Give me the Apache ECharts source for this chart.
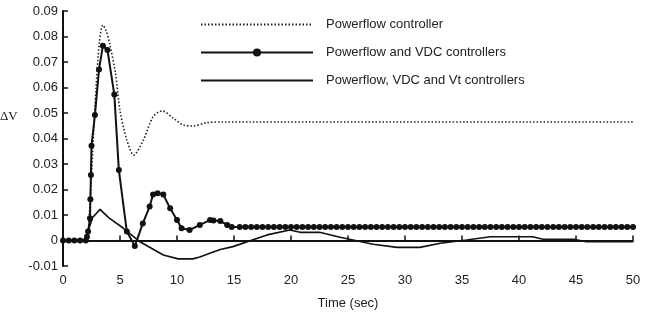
<!DOCTYPE html>
<html>
<head>
<meta charset="utf-8">
<script src="https://cdn.jsdelivr.net/npm/echarts@6/dist/echarts.min.js"></script>
<style>html,body{margin:0;padding:0;background:#fff;}#c{width:649px;height:329px;}</style>
</head>
<body>
<div id="c"></div>
<script>
var seriesNames = ['Powerflow controller', 'Powerflow and VDC controllers', 'Powerflow, VDC and Vt controllers'];
var xTickLabels = [0, 5, 10, 15, 20, 25, 30, 35, 40, 45, 50];
var yTickLabels = ['-0.01', '0', '0.01', '0.02', '0.03', '0.04', '0.05', '0.06', '0.07', '0.08', '0.09'];

// Powerflow controller (dotted)
var t1 = [0, 2.0, 2.3, 2.6, 2.9, 3.2, 3.5, 3.8, 4.1, 4.6, 5.0, 5.6, 6.2, 7.05, 7.9, 8.7, 9.7, 10.55, 11.4, 12.6, 14, 50];
var v1 = [0, 0, 0.01, 0.035, 0.06, 0.078, 0.0845, 0.082, 0.077, 0.0657, 0.051, 0.0394, 0.0335, 0.0394, 0.0485, 0.0508, 0.0479, 0.0453, 0.0449, 0.0462, 0.0465, 0.0465];

// Powerflow and VDC controllers (line with markers)
var t2 = [0, 0.5, 1, 1.5, 2, 2.1, 2.2, 2.37, 2.4, 2.45, 2.5, 2.8, 3.16, 3.5, 3.9, 4.5, 4.9, 5.6, 6.3, 7, 7.6, 7.9, 8.3, 8.8, 9.4, 10, 10.4, 11.1, 12, 12.9, 13.2, 13.8, 14.4, 14.8,
  15.5, 16, 16.5, 17, 17.5, 18, 18.5, 19, 19.5, 20, 20.5, 21, 21.5, 22, 22.5, 23, 23.5, 24, 24.5, 25, 25.5, 26, 26.5, 27, 27.5, 28, 28.5, 29, 29.5, 30,
  30.5, 31, 31.5, 32, 32.5, 33, 33.5, 34, 34.5, 35, 35.5, 36, 36.5, 37, 37.5, 38, 38.5, 39, 39.5, 40, 40.5, 41, 41.5, 42, 42.5, 43, 43.5, 44, 44.5, 45,
  45.5, 46, 46.5, 47, 47.5, 48, 48.5, 49, 49.5, 50];
var v2 = [0, 0, 0, 0, 0, 0.0015, 0.0035, 0.0087, 0.0162, 0.0257, 0.0372, 0.0492, 0.0671, 0.0764, 0.0747, 0.0573, 0.0276, 0.0035, -0.0022, 0.0067, 0.0133, 0.018, 0.0185, 0.018, 0.0126, 0.008, 0.0048, 0.0041, 0.0061, 0.008, 0.0078, 0.0076, 0.0061, 0.0053,
  0.0053, 0.0053, 0.0053, 0.0053, 0.0053, 0.0053, 0.0053, 0.0053, 0.0053, 0.0053, 0.0053, 0.0053, 0.0053, 0.0053, 0.0053, 0.0053, 0.0053, 0.0053, 0.0053, 0.0053, 0.0053, 0.0053, 0.0053, 0.0053, 0.0053, 0.0053, 0.0053, 0.0053, 0.0053, 0.0053,
  0.0053, 0.0053, 0.0053, 0.0053, 0.0053, 0.0053, 0.0053, 0.0053, 0.0053, 0.0053, 0.0053, 0.0053, 0.0053, 0.0053, 0.0053, 0.0053, 0.0053, 0.0053, 0.0053, 0.0053, 0.0053, 0.0053, 0.0053, 0.0053, 0.0053, 0.0053, 0.0053, 0.0053, 0.0053, 0.0053,
  0.0053, 0.0053, 0.0053, 0.0053, 0.0053, 0.0053, 0.0053, 0.0053, 0.0053, 0.0053];

// Powerflow, VDC and Vt controllers (solid)
var t3 = [0, 2.0, 2.3, 2.6, 3.25, 4.0, 5.3, 6.75, 8.8, 10.1, 11.4, 12.0, 13.0, 13.8, 14.9, 17.9, 19.9, 20.8, 22.5, 24.3, 27.2, 29.3, 31.3, 33.1, 35.4, 37.5, 41.2, 42.1, 44.8, 45.9, 50];
var v3 = [0, 0, 0.005, 0.009, 0.0122, 0.009, 0.0048, -0.0005, -0.0057, -0.0072, -0.0072, -0.0065, -0.0048, -0.0035, -0.0024, 0.0022, 0.0041, 0.0032, 0.0032, 0.0013, -0.0015, -0.0027, -0.0027, -0.0011, 0.0002, 0.0015, 0.0015, 0.0005, 0.0005, -0.0005, -0.0005];

function pairs(t, v) { return t.map(function (x, i) { return [x, v[i]]; }); }

var chart = echarts.init(document.getElementById('c'), null, { renderer: 'canvas' });
var font = 'Liberation Sans, Arial, sans-serif';
var hidden = { color: 'rgba(0,0,0,0)', borderWidth: 0, opacity: 0 };
chart.setOption({
  animation: false,
  backgroundColor: '#fff',
  grid: { left: 63, right: 16, top: 11, bottom: 63, containLabel: false },
  legend: {
    orient: 'vertical', left: 195, top: 13,
    itemWidth: 112, itemHeight: 10, itemGap: 15,
    textStyle: { fontFamily: font, fontSize: 13, color: '#222', padding: [0, 0, 0, 8] },
    data: [
      { name: seriesNames[0], itemStyle: hidden },
      { name: seriesNames[1] },
      { name: seriesNames[2], itemStyle: hidden }
    ]
  },
  xAxis: {
    type: 'value', min: 0, max: 50, interval: 5,
    name: 'Time (sec)', nameLocation: 'middle', nameGap: 31,
    nameTextStyle: { fontFamily: font, fontSize: 13, color: '#222' },
    axisLine: { lineStyle: { color: '#111', width: 2 } },
    axisTick: { inside: true, length: 5, lineStyle: { color: '#111', width: 1.5 } },
    axisLabel: { fontFamily: font, fontSize: 13, color: '#222', margin: 8,
      formatter: function (v) { return xTickLabels.indexOf(v) >= 0 ? String(v) : ''; } },
    splitLine: { show: false }
  },
  yAxis: {
    type: 'value', min: -0.01, max: 0.09, interval: 0.01,
    axisLine: { show: true, lineStyle: { color: '#111', width: 2 } },
    axisTick: { show: true, inside: true, length: 5, lineStyle: { color: '#111', width: 1.5 } },
    axisLabel: { fontFamily: font, fontSize: 13, color: '#222', margin: 5,
      formatter: function (v) { var i = Math.round((v + 0.01) / 0.01); return yTickLabels[i] || ''; } },
    splitLine: { show: false }
  },
  graphic: [{
    type: 'text', left: 0, top: 110,
    style: { text: 'ΔV', font: '13px "Liberation Serif", serif', fill: '#222' }
  }],
  series: [
    { name: seriesNames[0], type: 'line', symbol: 'none', data: pairs(t1, v1), smooth: 0.3,
      lineStyle: { color: '#222', width: 1.6, type: [1.5, 2] }, itemStyle: { color: '#222' } },
    { name: seriesNames[1], type: 'line', symbol: 'circle', symbolSize: 6, data: pairs(t2, v2),
      lineStyle: { color: '#111', width: 2 }, itemStyle: { color: '#111' } },
    { name: seriesNames[2], type: 'line', symbol: 'none', data: pairs(t3, v3),
      lineStyle: { color: '#111', width: 1.6 }, itemStyle: { color: '#111' } }
  ]
});
</script>
</body>
</html>
